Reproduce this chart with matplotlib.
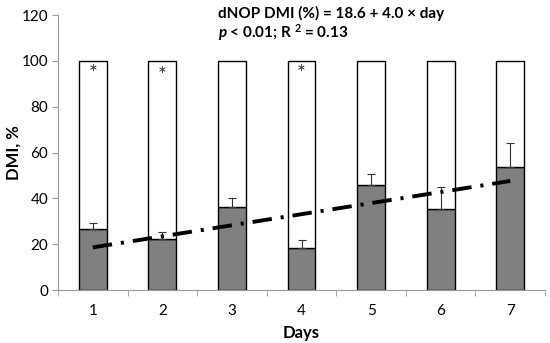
import matplotlib.pyplot as plt
import numpy as np

plt.rcParams['font.family'] = ['Lato', 'DejaVu Sans']
plt.rcParams['mathtext.fontset'] = 'custom'
plt.rcParams['mathtext.rm'] = 'Lato'
plt.rcParams['mathtext.bf'] = 'Lato:bold'
plt.rcParams['mathtext.it'] = 'Lato:italic'
plt.rcParams['mathtext.bfit'] = 'Lato:bold:italic'

days = [1, 2, 3, 4, 5, 6, 7]
dmi = [26.8, 22.1, 36.1, 18.2, 45.9, 35.2, 53.8]
dmi_err = [2.6, 3.1, 4.2, 3.6, 4.8, 9.6, 10.2]
total = [100] * 7
star_days = [1, 2, 4]
star_y = [94.5, 93.2, 94.5]
trend_x = [1, 7]
trend_y = [18.6, 47.6]

fig = plt.figure(figsize=(5.5, 3.43), dpi=100)
ax = fig.add_axes([0.1055, 0.1545, 0.8855, 0.8015])

rest = [t - d for t, d in zip(total, dmi)]
ax.bar(days, dmi, width=0.4, color='#808080', edgecolor='black', linewidth=1, zorder=2)
ax.bar(days, rest, bottom=dmi, width=0.4, color='white', edgecolor='black', linewidth=1, zorder=2)
ax.errorbar(days, dmi, yerr=[np.zeros(7), dmi_err], fmt='none', ecolor='#333333',
            elinewidth=0.8, capsize=3, capthick=0.8, zorder=3)
ax.plot(trend_x, trend_y, color='black', lw=2.8, dashes=(5, 2.3, 0.8, 2.3), zorder=4)
for d, y in zip(star_days, star_y):
    ax.text(d, y, '*', ha='center', va='center', fontsize=15, color='#333333')

ax.set_xlim(0.5, 7.5)
ax.set_ylim(0, 120)
ax.set_yticks(range(0, 121, 20))
ax.set_xticks(days)
ax.set_xticks(np.arange(0.5, 7.6, 1), minor=True)
ax.tick_params(axis='x', which='major', length=0, labelsize=11, pad=10)
ax.tick_params(axis='x', which='minor', length=4, color='#999999', direction='out')
ax.tick_params(axis='y', length=4, color='#999999', labelsize=11, pad=3)
for s in ['top', 'right']:
    ax.spines[s].set_visible(False)
for s in ['left', 'bottom']:
    ax.spines[s].set_color('#999999')
ax.set_ylabel('DMI, %', fontsize=12, fontweight='bold', va='center')
ax.yaxis.set_label_coords(-0.092, 0.5)
ax.set_xlabel('Days', fontsize=12, fontweight='bold', labelpad=5)

fig.text(0.396, 0.962, 'dNOP DMI (%) = 18.6 + 4.0 × day', fontsize=11, fontweight='bold', va='center')
fig.text(0.396, 0.905, r'$\boldsymbol{p}$ < 0.01; R $^{\mathbf{2}}$ = 0.13', fontsize=11,
         fontweight='bold', va='center')

fig.savefig('out.png', dpi=100)
